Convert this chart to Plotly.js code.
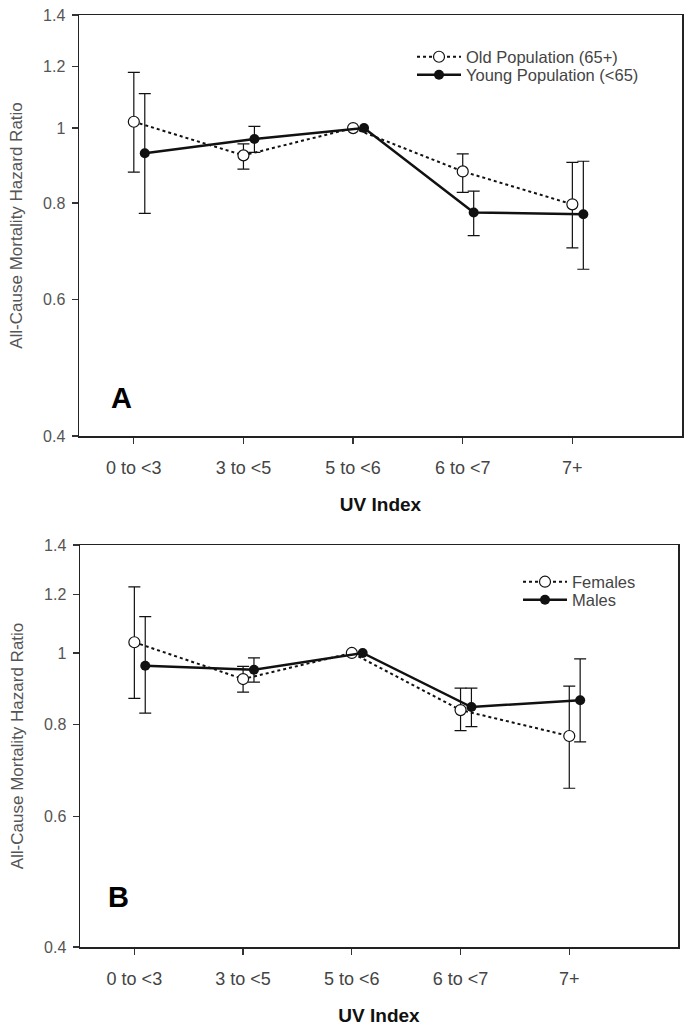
<!DOCTYPE html>
<html><head><meta charset="utf-8">
<script src="https://cdn.plot.ly/plotly-3.0.1.min.js"></script>
<style>html,body{margin:0;padding:0;background:#fff}</style>
</head><body>
<div id="chart" style="width:691px;height:1033px"></div>
<script>
const categories = ["0 to <3", "3 to <5", "5 to <6", "6 to <7", "7+"];
const yTickVals = [0.4, 0.6, 0.8, 1, 1.2, 1.4];
const yTickText = ["0.4", "0.6", "0.8", "1", "1.2", "1.4"];

// Panel A
const oldHR   = [1.019, 0.922, 1.0, 0.879, 0.797];
const oldLow  = [0.877, 0.885, null, 0.826, 0.700];
const oldHigh = [1.180, 0.954, null, 0.926, 0.903];
const youngHR   = [0.928, 0.968, 1.0, 0.778, 0.774];
const youngLow  = [0.776, 0.930, null, 0.726, 0.657];
const youngHigh = [1.108, 1.005, null, 0.829, 0.906];

// Panel B
const femaleHR   = [1.034, 0.922, 1.0, 0.837, 0.772];
const femaleLow  = [0.868, 0.885, null, 0.785, 0.656];
const femaleHigh = [1.229, 0.959, null, 0.896, 0.902];
const maleHR   = [0.961, 0.949, 1.0, 0.845, 0.863];
const maleLow  = [0.829, 0.913, null, 0.795, 0.758];
const maleHigh = [1.120, 0.985, null, 0.896, 0.982];

const FONT = "Liberation Sans, Arial, sans-serif";
const idx = categories.map((_, i) => i);
const shifted = categories.map((_, i) => i + 0.1);

function errs(hr, lo, hi) {
  return {
    type: "data", symmetric: false,
    array: hi.map((h, i) => h == null ? NaN : h - hr[i]),
    arrayminus: lo.map((l, i) => l == null ? NaN : hr[i] - l),
    color: "#111", thickness: 1.2, width: 6
  };
}
function openTrace(name, x, hr, lo, hi, xa, ya, lg) {
  return {
    type: "scatter", mode: "lines+markers", name: name, x: x, y: hr,
    xaxis: xa, yaxis: ya, legend: lg,
    line: {color: "#111", width: 2, dash: "dot"},
    marker: {symbol: "circle", size: 11, color: "#fff", line: {color: "#111", width: 1.2}},
    error_y: errs(hr, lo, hi)
  };
}
function filledTrace(name, x, hr, lo, hi, xa, ya, lg) {
  return {
    type: "scatter", mode: "lines+markers", name: name, x: x, y: hr,
    xaxis: xa, yaxis: ya, legend: lg,
    line: {color: "#111", width: 2.5},
    marker: {symbol: "circle", size: 10, color: "#111"},
    error_y: errs(hr, lo, hi)
  };
}

const data = [
  openTrace("Old Population (65+)", idx, oldHR, oldLow, oldHigh, "x", "y", "legend"),
  filledTrace("Young Population (<65)", shifted, youngHR, youngLow, youngHigh, "x", "y", "legend2"),
  openTrace("Females", idx, femaleHR, femaleLow, femaleHigh, "x2", "y2", "legend3"),
  filledTrace("Males", shifted, maleHR, maleLow, maleHigh, "x2", "y2", "legend4")
];

function xAxis(domain, anchor) {
  return {
    domain: domain, anchor: anchor, range: [-0.5, 5],
    tickvals: idx, ticktext: categories,
    ticks: "outside", ticklen: 6, tickwidth: 1.2, tickcolor: "#333",
    showline: true, mirror: true, linecolor: "#222", linewidth: 1.5,
    showgrid: false, zeroline: false, ticklabelstandoff: 9,
    tickfont: {family: FONT, size: 18, color: "#444"},
    title: {text: "<b>UV Index</b>", font: {family: FONT, size: 19, color: "#111"}, standoff: 20}
  };
}
function yAxis(domain, anchor) {
  return {
    domain: domain, anchor: anchor, type: "log",
    range: [Math.log10(0.4), Math.log10(1.4)],
    tickvals: yTickVals, ticktext: yTickText,
    ticks: "outside", ticklen: 6, tickwidth: 1.2, tickcolor: "#333",
    showline: true, mirror: true, linecolor: "#222", linewidth: 1.5,
    showgrid: false, zeroline: false, ticklabelstandoff: 3,
    tickfont: {family: FONT, size: 16, color: "#555"},
    title: {text: "All-Cause Mortality Hazard Ratio", font: {family: FONT, size: 17, color: "#555"}, standoff: 16}
  };
}
function legendAt(xPx, yPx) {
  return {x: xPx/691, y: 1 - yPx/1033, xanchor: "left", yanchor: "middle",
          bgcolor: "rgba(0,0,0,0)", itemwidth: 44,
          font: {family: FONT, size: 16.5, color: "#444"}};
}

const layout = {
  width: 691, height: 1033,
  margin: {l: 0, r: 0, t: 0, b: 0},
  paper_bgcolor: "#fff", plot_bgcolor: "#fff",
  font: {family: FONT, color: "#444"},
  xaxis: xAxis([79/691, 682/691], "y"),
  yaxis: yAxis([1 - 436/1033, 1 - 15/1033], "x"),
  xaxis2: xAxis([80/691, 678/691], "y2"),
  yaxis2: yAxis([1 - 947/1033, 1 - 545/1033], "x2"),
  showlegend: true,
  legend: legendAt(412, 57),
  legend2: legendAt(412, 75),
  legend3: legendAt(518, 582),
  legend4: legendAt(518, 600),
  shapes: [
    {type: "line", layer: "below", xref: "x domain", yref: "y", x0: 0, x1: 1, y0: Math.log10(1), y1: Math.log10(1),
     line: {color: "#555", width: 1, dash: "dot"}},
    {type: "line", layer: "below", xref: "x2 domain", yref: "y2", x0: 0, x1: 1, y0: Math.log10(1), y1: Math.log10(1),
     line: {color: "#555", width: 1, dash: "dot"}}
  ],
  annotations: [
    {text: "<b>A</b>", xref: "paper", yref: "paper", x: 109/691, y: 1 - 398/1033, showarrow: false,
     font: {family: FONT, size: 29, color: "#000"}},
    {text: "<b>B</b>", xref: "paper", yref: "paper", x: 106/691, y: 1 - 915/1033, showarrow: false,
     font: {family: FONT, size: 29, color: "#000"}}
  ]
};

Plotly.newPlot("chart", data, layout, {displayModeBar: false, staticPlot: true});
</script>
</body></html>
